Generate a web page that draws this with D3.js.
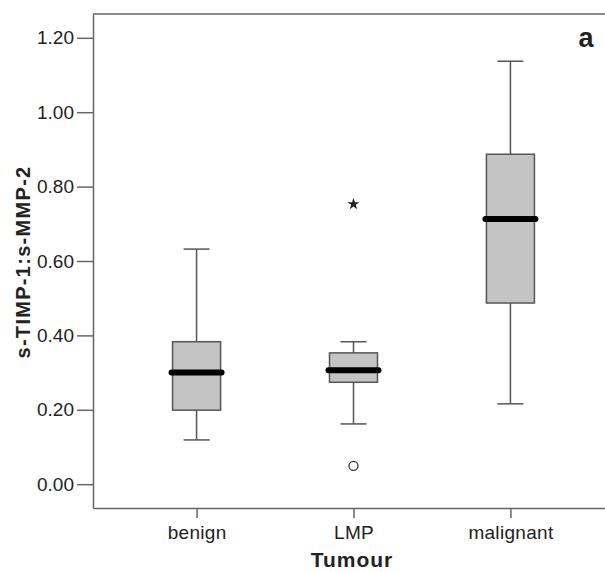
<!DOCTYPE html>
<html><head><meta charset="utf-8">
<script src="https://cdn.jsdelivr.net/npm/d3@7"></script>
<style>body{margin:0;background:#fff;} text{font-family:"Liberation Sans",Arial,sans-serif;fill:#222;}</style>
</head><body><svg id="c" width="605" height="572"></svg>
<script>
const categories = ["benign", "LMP", "malignant"];
const whiskerLow  = [0.119, 0.162, 0.216];
const q1          = [0.199, 0.274, 0.487];
const median      = [0.300, 0.306, 0.713];
const q3          = [0.383, 0.353, 0.887];
const whiskerHigh = [0.632, 0.383, 1.137];
const outliers = [{cat: "LMP", v: 0.049}];
const extremes = [{cat: "LMP", v: 0.753}];
const yTicks = [0, 0.2, 0.4, 0.6, 0.8, 1.0, 1.2];

const svg = d3.select("#c");
const L = 93, T = 14, R = 614, B = 508;
const x = d3.scalePoint().domain(categories).range([L, R]).padding(0.66);
const y = d3.scaleLinear().domain([-0.064, 1.264]).range([B, T]);
const axisCol = "#666";

// frame
svg.append("line").attr("x1", L).attr("x2", 605).attr("y1", T).attr("y2", T).attr("stroke", axisCol).attr("stroke-width", 1.5);

// y axis
const ya = svg.append("g").attr("transform", `translate(${L},0)`)
  .call(d3.axisLeft(y).tickValues(yTicks).tickFormat(d3.format(".2f")).tickSize(16).tickSizeOuter(0).tickPadding(3));
ya.select(".domain").attr("stroke", axisCol).attr("stroke-width", 1.5);
ya.selectAll(".tick line").attr("stroke", axisCol).attr("stroke-width", 1.5);
ya.selectAll(".tick text").style("font-size", "19px").attr("fill", "#333");

// x axis
const xa = svg.append("g").attr("transform", `translate(0,${B})`)
  .call(d3.axisBottom(x).tickSize(10).tickSizeOuter(0).tickPadding(8));
xa.select(".domain").attr("stroke", axisCol).attr("stroke-width", 1.5);
xa.selectAll(".tick line").attr("stroke", axisCol).attr("stroke-width", 1.5);
xa.selectAll(".tick text").style("font-size", "19px").style("letter-spacing", "0.3px").attr("fill", "#333");

// boxes
const boxW = 48, capW = 26;
const g = svg.append("g");
categories.forEach((c, i) => {
  const cx = x(c);
  g.append("line").attr("x1", cx).attr("x2", cx).attr("y1", y(whiskerHigh[i])).attr("y2", y(q3[i])).attr("stroke", "#555").attr("stroke-width", 1.5);
  g.append("line").attr("x1", cx).attr("x2", cx).attr("y1", y(q1[i])).attr("y2", y(whiskerLow[i])).attr("stroke", "#555").attr("stroke-width", 1.5);
  g.append("line").attr("x1", cx - capW/2).attr("x2", cx + capW/2).attr("y1", y(whiskerHigh[i])).attr("y2", y(whiskerHigh[i])).attr("stroke", "#555").attr("stroke-width", 1.5);
  g.append("line").attr("x1", cx - capW/2).attr("x2", cx + capW/2).attr("y1", y(whiskerLow[i])).attr("y2", y(whiskerLow[i])).attr("stroke", "#555").attr("stroke-width", 1.5);
  g.append("rect").attr("x", cx - boxW/2).attr("width", boxW).attr("y", y(q3[i])).attr("height", y(q1[i]) - y(q3[i]))
    .attr("fill", "#c4c4c4").attr("stroke", "#555").attr("stroke-width", 1.5);
  g.append("line").attr("x1", cx - boxW/2 - 1).attr("x2", cx + boxW/2 + 1).attr("y1", y(median[i])).attr("y2", y(median[i]))
    .attr("stroke", "#000").attr("stroke-width", 6).attr("stroke-linecap", "round");
});
outliers.forEach(o => {
  g.append("circle").attr("cx", x(o.cat)).attr("cy", y(o.v)).attr("r", 4.5).attr("fill", "none").attr("stroke", "#333").attr("stroke-width", 1.3);
});
extremes.forEach(o => {
  g.append("path").attr("d", d3.symbol(d3.symbolStar, 45)()).attr("transform", `translate(${x(o.cat)},${y(o.v)})`).attr("fill", "#222");
});

// titles
svg.append("text").attr("x", 352).attr("y", 567).attr("text-anchor", "middle").style("font-size", "21px").style("letter-spacing", "1px").style("font-weight", "bold").text("Tumour");
svg.append("text").attr("transform", "translate(30,262) rotate(-90)").attr("text-anchor", "middle").style("font-size", "20px").style("letter-spacing", "1.3px").style("font-weight", "bold").text("s-TIMP-1:s-MMP-2");
svg.append("text").attr("x", 586).attr("y", 47).attr("text-anchor", "middle").style("font-size", "27px").style("font-weight", "bold").attr("fill", "#111").text("a");
</script></body></html>
